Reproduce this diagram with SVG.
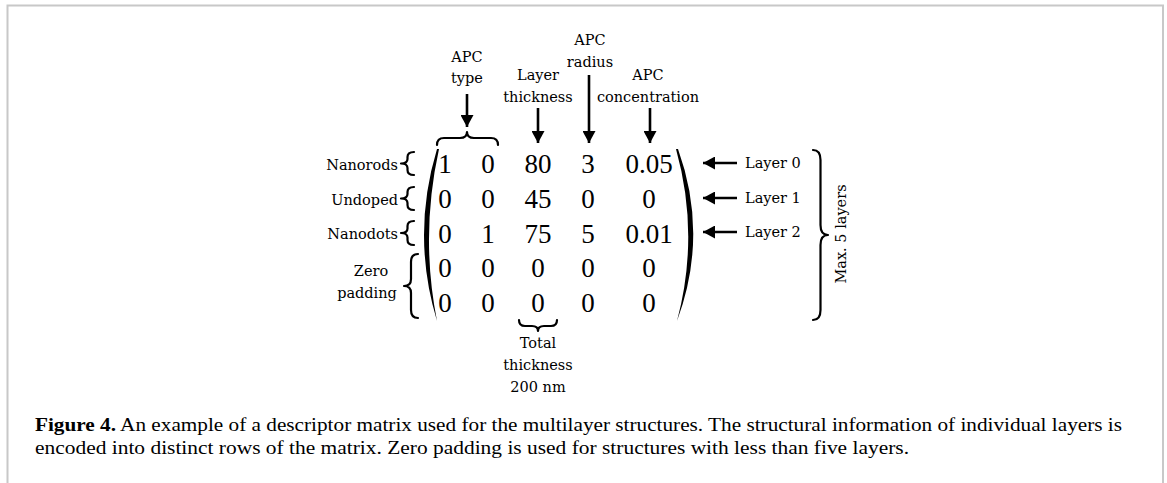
<svg xmlns="http://www.w3.org/2000/svg" width="1167" height="483" viewBox="0 0 1167 483">
<defs>
<marker id="ah" viewBox="0 0 12 13" refX="12" refY="6.5" markerWidth="12" markerHeight="13" markerUnits="userSpaceOnUse" orient="auto">
<path d="M0,0 L12,6.5 L0,13 Z" fill="#000"/>
</marker>
</defs>
<style>
.lbl{font-family:"DejaVu Serif","Liberation Serif",serif;font-size:14.5px;fill:#000}
.num{font-family:"Liberation Serif",serif;font-size:27px;fill:#000;text-anchor:middle}
.cap{font-family:"Liberation Serif",serif;font-size:18px;fill:#000}
.arr{stroke:#000;stroke-width:2.6;fill:none;marker-end:url(#ah)}
.br{stroke:#000;stroke-width:2.2;fill:none;stroke-linecap:round;stroke-linejoin:round}
.mid{text-anchor:middle}
.end{text-anchor:end}
</style>
<rect width="1167" height="483" fill="#fff"/>
<g id="frame" stroke="#c8c8c8" stroke-width="2" fill="none">
<path d="M7.5,483 L7.5,5.5 L1163,5.5 L1163,483"/>
</g>

<g id="col-labels">
<text class="lbl mid" x="467" y="62">APC</text>
<text class="lbl mid" x="467" y="83">type</text>
<text class="lbl mid" x="538" y="80">Layer</text>
<text class="lbl mid" x="538" y="102">thickness</text>
<text class="lbl mid" x="590" y="45">APC</text>
<text class="lbl mid" x="590" y="67">radius</text>
<text class="lbl mid" x="648" y="80">APC</text>
<text class="lbl mid" x="648" y="102">concentration</text>
</g>

<g id="connectors">
<line class="arr" x1="467" y1="94" x2="467" y2="127"/>
<line class="arr" x1="538" y1="108" x2="538" y2="143"/>
<line class="arr" x1="589" y1="75" x2="589" y2="143"/>
<line class="arr" x1="650" y1="108" x2="650" y2="143"/>
<line class="arr" x1="737" y1="163" x2="703" y2="163"/>
<line class="arr" x1="737" y1="198" x2="703" y2="198"/>
<line class="arr" x1="737" y1="232" x2="703" y2="232"/>
</g>

<g id="braces">
<path class="br" d="M437,145 Q437,138 444,138 L460,138 Q467,138 467,132 Q467,138 474,138 L491,138 Q498,138 498,145"/>
<path class="br" d="M519,320 Q519,326 525,326 L532,326 Q538,326 538,331 Q538,326 544,326 L551,326 Q557,326 557,320"/>
<path class="br" d="M414,152 Q407.5,152 407.5,157 L407.5,159 Q407.5,163.5 401,163.5 Q407.5,163.5 407.5,168 L407.5,170 Q407.5,175 414,175"/>
<path class="br" d="M414,187 Q407.5,187 407.5,192 L407.5,194 Q407.5,198.5 401,198.5 Q407.5,198.5 407.5,203 L407.5,205 Q407.5,210 414,210"/>
<path class="br" d="M414,221 Q407.5,221 407.5,226 L407.5,228.5 Q407.5,233 401,233 Q407.5,233 407.5,237.5 L407.5,240 Q407.5,245 414,245"/>
<path class="br" d="M418,254 Q411,254 411,262 L411,279 Q411,286 404,286 Q411,286 411,293 L411,310 Q411,318 418,318"/>
<path class="br" d="M813,150 Q820.5,150 820.5,160 L820.5,225 Q820.5,235 828,235 Q820.5,235 820.5,245 L820.5,310 Q820.5,320 813,320"/>
</g>

<g id="matrix">
<path d="M437,149 Q411,235 437,321 Q420,235 439,149 Z" fill="#000"/>
<path d="M678,149 Q709,235 677,321 Q700,235 676,149 Z" fill="#000"/>
<text class="num" x="445" y="173">1</text>
<text class="num" x="488" y="173">0</text>
<text class="num" x="538" y="173">80</text>
<text class="num" x="588" y="173">3</text>
<text class="num" x="649" y="173">0.05</text>
<text class="num" x="445" y="208">0</text>
<text class="num" x="488" y="208">0</text>
<text class="num" x="538" y="208">45</text>
<text class="num" x="588" y="208">0</text>
<text class="num" x="649" y="208">0</text>
<text class="num" x="445" y="243">0</text>
<text class="num" x="488" y="243">1</text>
<text class="num" x="538" y="243">75</text>
<text class="num" x="588" y="243">5</text>
<text class="num" x="649" y="243">0.01</text>
<text class="num" x="445" y="277">0</text>
<text class="num" x="488" y="277">0</text>
<text class="num" x="538" y="277">0</text>
<text class="num" x="588" y="277">0</text>
<text class="num" x="649" y="277">0</text>
<text class="num" x="445" y="312">0</text>
<text class="num" x="488" y="312">0</text>
<text class="num" x="538" y="312">0</text>
<text class="num" x="588" y="312">0</text>
<text class="num" x="649" y="312">0</text>
</g>

<g id="row-labels">
<text class="lbl end" x="398" y="170">Nanorods</text>
<text class="lbl end" x="398" y="205">Undoped</text>
<text class="lbl end" x="398" y="239">Nanodots</text>
<text class="lbl mid" x="371" y="276">Zero</text>
<text class="lbl mid" x="367" y="298">padding</text>
</g>

<g id="layer-labels">
<text class="lbl" x="745" y="168">Layer 0</text>
<text class="lbl" x="745" y="203">Layer 1</text>
<text class="lbl" x="745" y="237">Layer 2</text>
<text class="lbl mid" transform="translate(846,234) rotate(-90)" x="0" y="0">Max. 5 layers</text>
</g>

<g id="total">
<text class="lbl mid" x="538" y="348">Total</text>
<text class="lbl mid" x="538" y="370">thickness</text>
<text class="lbl mid" x="538" y="392">200 nm</text>
</g>

<g id="caption">
<text class="cap" x="35" y="431" textLength="1087" lengthAdjust="spacingAndGlyphs"><tspan font-weight="bold">Figure 4.</tspan> An example of a descriptor matrix used for the multilayer structures. The structural information of individual layers is</text>
<text class="cap" x="35" y="454" textLength="874" lengthAdjust="spacingAndGlyphs">encoded into distinct rows of the matrix. Zero padding is used for structures with less than five layers.</text>
</g>
</svg>
